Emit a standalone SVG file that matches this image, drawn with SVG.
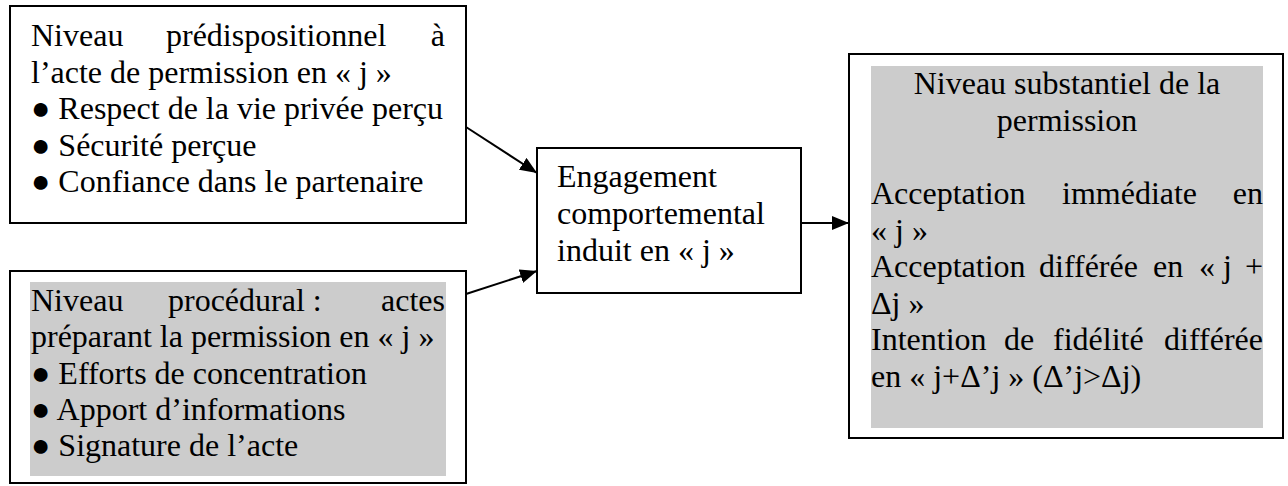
<svg xmlns="http://www.w3.org/2000/svg" width="1288" height="486" viewBox="0 0 1288 486">
<style>
.box{fill:#fff;stroke:#000;stroke-width:2}
.shade{fill:#cccccc}
.c{text-anchor:middle}
.e{text-anchor:end}
.edge{stroke:#000;stroke-width:2;fill:none}
</style>
<defs>
<marker id="ah" markerUnits="userSpaceOnUse" markerWidth="18" markerHeight="14" refX="17" refY="7" orient="auto">
<path d="M0,0 L17,7 L0,14 z" fill="#000"/>
</marker>
</defs>
<rect width="1288" height="486" fill="#fff"/>
<g font-family="'Liberation Serif', 'Times New Roman', serif" font-size="32" fill="#000">
<g id="node-predispositionnel">
<rect class="box" x="10" y="6" width="456" height="217"/>
<text x="31" y="46">Niveau</text>
<text x="166" y="46">prédispositionnel</text>
<text class="e" x="445" y="46">à</text>
<text x="31" y="82.5">l’acte de permission en « j »</text>
<text x="31" y="119">● Respect de la vie privée perçu</text>
<text x="31" y="155.5">● Sécurité perçue</text>
<text x="31" y="192">● Confiance dans le partenaire</text>
</g>
<g id="node-procedural">
<rect class="box" x="10" y="271" width="456" height="212"/>
<rect class="shade" x="30" y="282" width="416" height="194"/>
<text x="31" y="311">Niveau</text>
<text x="168" y="311">procédural :</text>
<text class="e" x="445" y="311">actes</text>
<text x="31" y="347">préparant la permission en « j »</text>
<text x="31" y="383.5">● Efforts de concentration</text>
<text x="31" y="420">● Apport d’informations</text>
<text x="31" y="456">● Signature de l’acte</text>
</g>
<g id="node-engagement">
<rect class="box" x="537" y="148" width="264" height="145"/>
<text x="557" y="187">Engagement</text>
<text x="557" y="224">comportemental</text>
<text x="557" y="261">induit en « j »</text>
</g>
<g id="node-substantiel">
<rect class="box" x="849" y="54" width="434" height="384"/>
<rect class="shade" x="871" y="66" width="392" height="362"/>
<text class="c" x="1067" y="94">Niveau substantiel de la</text>
<text class="c" x="1067" y="130.5">permission</text>
<text x="871" y="204">Acceptation</text>
<text x="1062" y="204">immédiate</text>
<text class="e" x="1263" y="204">en</text>
<text x="871" y="240.5">« j »</text>
<text x="871" y="277">Acceptation</text>
<text x="1039" y="277">différée</text>
<text x="1153" y="277">en</text>
<text x="1199" y="277">« j</text>
<text class="e" x="1263" y="277">+</text>
<text x="871" y="313.5">Δj »</text>
<text x="871" y="350">Intention</text>
<text x="1004" y="350">de</text>
<text x="1053" y="350">fidélité</text>
<text class="e" x="1263" y="350">différée</text>
<text x="871" y="386.5">en « j+Δ’j » (Δ’j&gt;Δj)</text>
</g>
</g>
<g id="connectors">
<line class="edge" x1="466" y1="127" x2="537" y2="173" marker-end="url(#ah)"/>
<line class="edge" x1="466" y1="294" x2="537" y2="271" marker-end="url(#ah)"/>
<line class="edge" x1="801" y1="223" x2="849" y2="223" marker-end="url(#ah)"/>
</g>
</svg>
